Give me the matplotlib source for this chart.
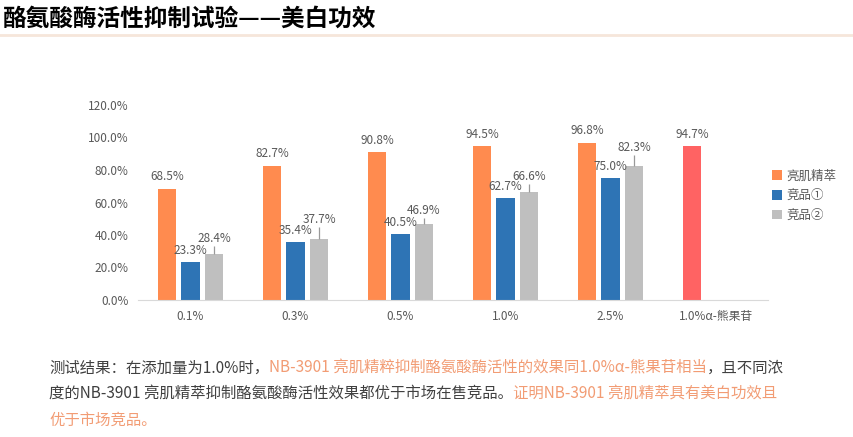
import numpy as np
import matplotlib
matplotlib.use('Agg')
from matplotlib import pyplot as plt
from matplotlib.lines import Line2D

plt.rcParams['font.family'] = ['Noto Sans CJK SC', 'DejaVu Sans']

# data
categories = ['0.1%', '0.3%', '0.5%', '1.0%', '2.5%', '1.0%α-熊果苷']
series_names = ['亮肌精萃', '竞品①', '竞品②']
liangji = [68.5, 82.7, 90.8, 94.5, 96.8, 94.7]
jingpin1 = [23.3, 35.4, 40.5, 62.7, 75.0, np.nan]
jingpin2 = [28.4, 37.7, 46.9, 66.6, 82.3, np.nan]
jingpin2_err = [4.7, 7.0, 3.5, 4.5, 6.8, np.nan]
yticks = [0, 20, 40, 60, 80, 100, 120]

orange = '#FF8B4F'
red = '#FF6363'
blue = '#2E74B5'
grey = '#BFBFBF'
txt = '#595959'

fig = plt.figure(figsize=(8.54, 4.37), dpi=100)
ax = fig.add_axes([138 / 854, 1 - 300 / 437, 630 / 854, 195 / 437])

x = np.arange(len(categories))
w = 0.18
d = 0.224
bar_colors = [orange] * 5 + [red]
b1 = ax.bar(x - d, liangji, w, color=bar_colors, label=series_names[0])
b2 = ax.bar(x, jingpin1, w, color=blue, label=series_names[1])
b3 = ax.bar(x + d, jingpin2, w, color=grey, label=series_names[2],
            yerr=[np.zeros(len(x)), jingpin2_err],
            error_kw=dict(ecolor='#999999', elinewidth=0.9, capsize=0))

for xi, v in zip(x - d, liangji):
    ax.annotate('%.1f%%' % v, (xi, v), xytext=(0, 4), textcoords='offset points',
                ha='center', va='bottom', fontsize=8.5, color=txt)
for xi, v in zip(x, jingpin1):
    if not np.isnan(v):
        ax.annotate('%.1f%%' % v, (xi, v), xytext=(0, 4), textcoords='offset points',
                    ha='center', va='bottom', fontsize=8.5, color=txt)
for xi, v, e in zip(x + d, jingpin2, jingpin2_err):
    if not np.isnan(v):
        ax.annotate('%.1f%%' % v, (xi, v + e), xytext=(0, 1), textcoords='offset points',
                    ha='center', va='bottom', fontsize=8.5, color=txt)

ax.set_xlim(-0.5, 5.5)
ax.set_ylim(0, 120)
ax.set_yticks(yticks)
ax.set_yticklabels(['%.1f%%' % t for t in yticks], fontsize=8.5, color=txt)
ax.set_xticks(x)
ax.set_xticklabels(categories, fontsize=8.5, color=txt)
ax.tick_params(axis='y', length=0, pad=7)
ax.tick_params(axis='x', length=0, pad=7)
for s in ['top', 'right', 'left']:
    ax.spines[s].set_visible(False)
ax.spines['bottom'].set_color('#D9D9D9')

leg = fig.legend(handles=[b1, b2, b3], labels=series_names, loc='upper left',
                 bbox_to_anchor=(761 / 854, 1 - 158 / 437), frameon=False,
                 fontsize=9, handlelength=0.8, handleheight=0.8,
                 handletextpad=0.3, labelspacing=0.55)
for t in leg.get_texts():
    t.set_color(txt)

# title and rule
fig.text(3 / 854, 1 - 19 / 437, '酪氨酸酶活性抑制试验——美白功效', fontsize=17,
         weight='heavy', color='black', va='center', ha='left')
fig.add_artist(Line2D([0, 1], [1 - 35 / 437, 1 - 35 / 437], transform=fig.transFigure,
                      color='#F6E6DA', linewidth=2))

# conclusion text
dark = '#404040'
salmon = '#F29C74'
lines = [
    [('测试结果：在添加量为1.0%时，', dark),
     ('NB-3901 亮肌精粹抑制酪氨酸酶活性的效果同1.0%α-熊果苷相当', salmon),
     ('，且不同浓', dark)],
    [('度的NB-3901 亮肌精萃抑制酪氨酸酶活性效果都优于市场在售竞品。', dark),
     ('证明NB-3901 亮肌精萃具有美白功效且', salmon)],
    [('优于市场竞品。', salmon)],
]
ys = [368, 393, 420]
for parts, yy in zip(lines, ys):
    t = fig.text(49 / 854, 1 - yy / 437, parts[0][0], color=parts[0][1],
                 fontsize=11.1, va='center', ha='left')
    for s, c in parts[1:]:
        t = ax.annotate(s, xy=(1, 0), xycoords=t, ha='left', va='bottom',
                        color=c, fontsize=11.1, annotation_clip=False)

fig.savefig('out.png', dpi=100)
